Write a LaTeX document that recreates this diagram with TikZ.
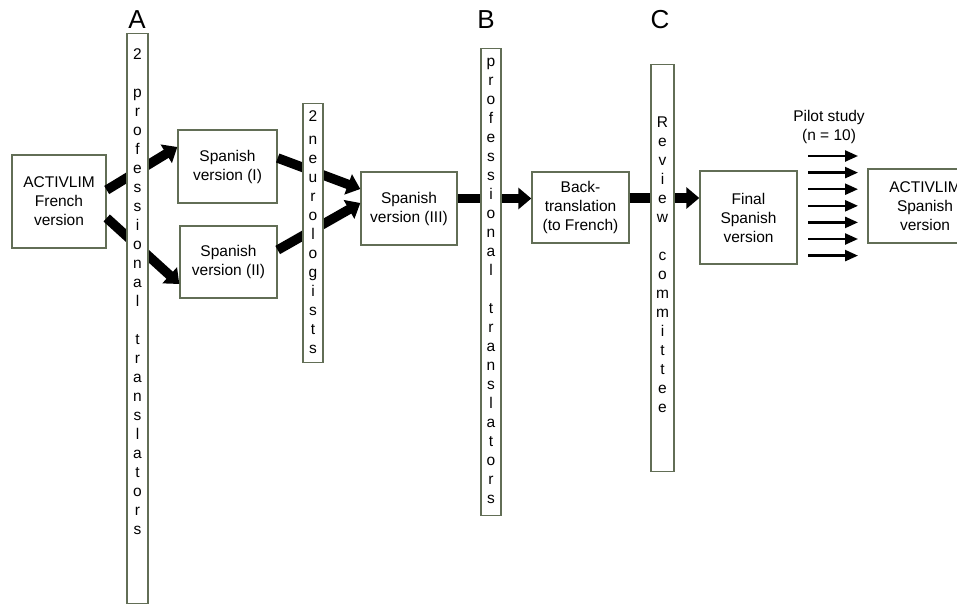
\documentclass[tikz,border=0pt]{standalone}
\usepackage{fontspec}
\setmainfont{Liberation Sans}
\usetikzlibrary{arrows.meta}
\definecolor{boxline}{RGB}{98,110,86}

\begin{document}
\begin{tikzpicture}[x=1pt,y=-1pt,
  font=\fontsize{15.5}{19}\selectfont,
  stage/.style={draw=boxline,line width=1.4pt,fill=white,align=center,inner sep=0pt},
  panel/.style={draw=boxline,line width=1.4pt,fill=white,align=center,inner sep=0pt,minimum width=20pt,anchor=north},
  bigarrow/.style={line width=9.5pt,-{Triangle[width=21pt,length=13pt]}},
  pilotarrow/.style={line width=2.4pt,-{Triangle[width=11pt,length=13pt]}},
  steplabel/.style={font=\fontsize{26}{30}\selectfont}]
\useasboundingbox (0,0) rectangle (957,605);
\clip (0,0) rectangle (957,605);

% versions
\node[stage,minimum width=94pt,minimum height=93pt] (french) at (59,201.5) {ACTIVLIM\\French\\version};
\node[stage,minimum width=99pt,minimum height=73pt] (spanI) at (227.5,166.5) {Spanish\\version (I)};
\node[stage,minimum width=97pt,minimum height=72pt] (spanII) at (228.5,262) {Spanish\\version (II)};
\node[stage,minimum width=96pt,minimum height=73pt] (spanIII) at (409,208.5) {Spanish\\version (III)};
\node[stage,minimum width=97pt,minimum height=71pt] (back) at (580.5,207.5) {Back-\\translation\\(to French)};
\node[stage,minimum width=97pt,minimum height=93pt] (final) at (748.5,217.5) {Final\\Spanish\\version};
\node[stage,minimum width=114pt,minimum height=74pt] (spanfinal) at (925,206) {ACTIVLIM\\Spanish\\version};

% thick arrows
\draw[bigarrow] ([yshift=11.5pt]french.east) -- ([yshift=19.5pt]spanI.west);
\draw[bigarrow] ([yshift=-16.5pt]french.east) -- ([yshift=-22pt]spanII.west);
\draw[bigarrow] ([yshift=8.5pt]spanI.east) -- ([yshift=19.5pt]spanIII.west);
\draw[bigarrow] ([yshift=12pt]spanII.east) -- ([yshift=5.5pt]spanIII.west);
\coordinate (s3out) at ([yshift=10pt]spanIII.east);
\draw[bigarrow] (s3out) -- (s3out -| back.west);
\coordinate (bkout) at ([yshift=9.5pt]back.east);
\draw[bigarrow] (bkout) -- (bkout -| final.west);

% pilot study
\node[align=center] (pilot) at (829,127) {Pilot study\\(n = 10)};
\foreach \k in {0,...,6}{
  \coordinate (pl\k) at (808,{156+16.6*\k});
  \draw[pilotarrow] (pl\k) -- ++(50,0);
}

% translators / reviewers
\node[panel,minimum width=21pt,text height=501pt,text depth=69pt] (transA) at (137.5,33)
  {2\\[19pt]p\\r\\o\\f\\e\\s\\s\\i\\o\\n\\a\\l\\[19pt]t\\r\\a\\n\\s\\l\\a\\t\\o\\r\\s};
\node[panel,text height=250pt,text depth=9pt] (neuro) at (313,103)
  {2\\[4pt]n\\e\\u\\r\\o\\l\\o\\g\\i\\s\\t\\s};
\node[panel,text height=455pt,text depth=12pt] (transB) at (491,48)
  {p\\r\\o\\f\\e\\s\\s\\i\\o\\n\\a\\l\\[19pt]t\\r\\a\\n\\s\\l\\a\\t\\o\\r\\s};
\node[panel,minimum width=23pt,text height=348pt,text depth=59pt] (review) at (662.5,64)
  {R\\e\\v\\i\\e\\w\\[19pt]c\\o\\m\\m\\i\\t\\t\\e\\e};

\node[steplabel] (labA) at (137,20) {A};
\node[steplabel] (labB) at (486,20) {B};
\node[steplabel] (labC) at (660,20) {C};
\end{tikzpicture}
\end{document}
